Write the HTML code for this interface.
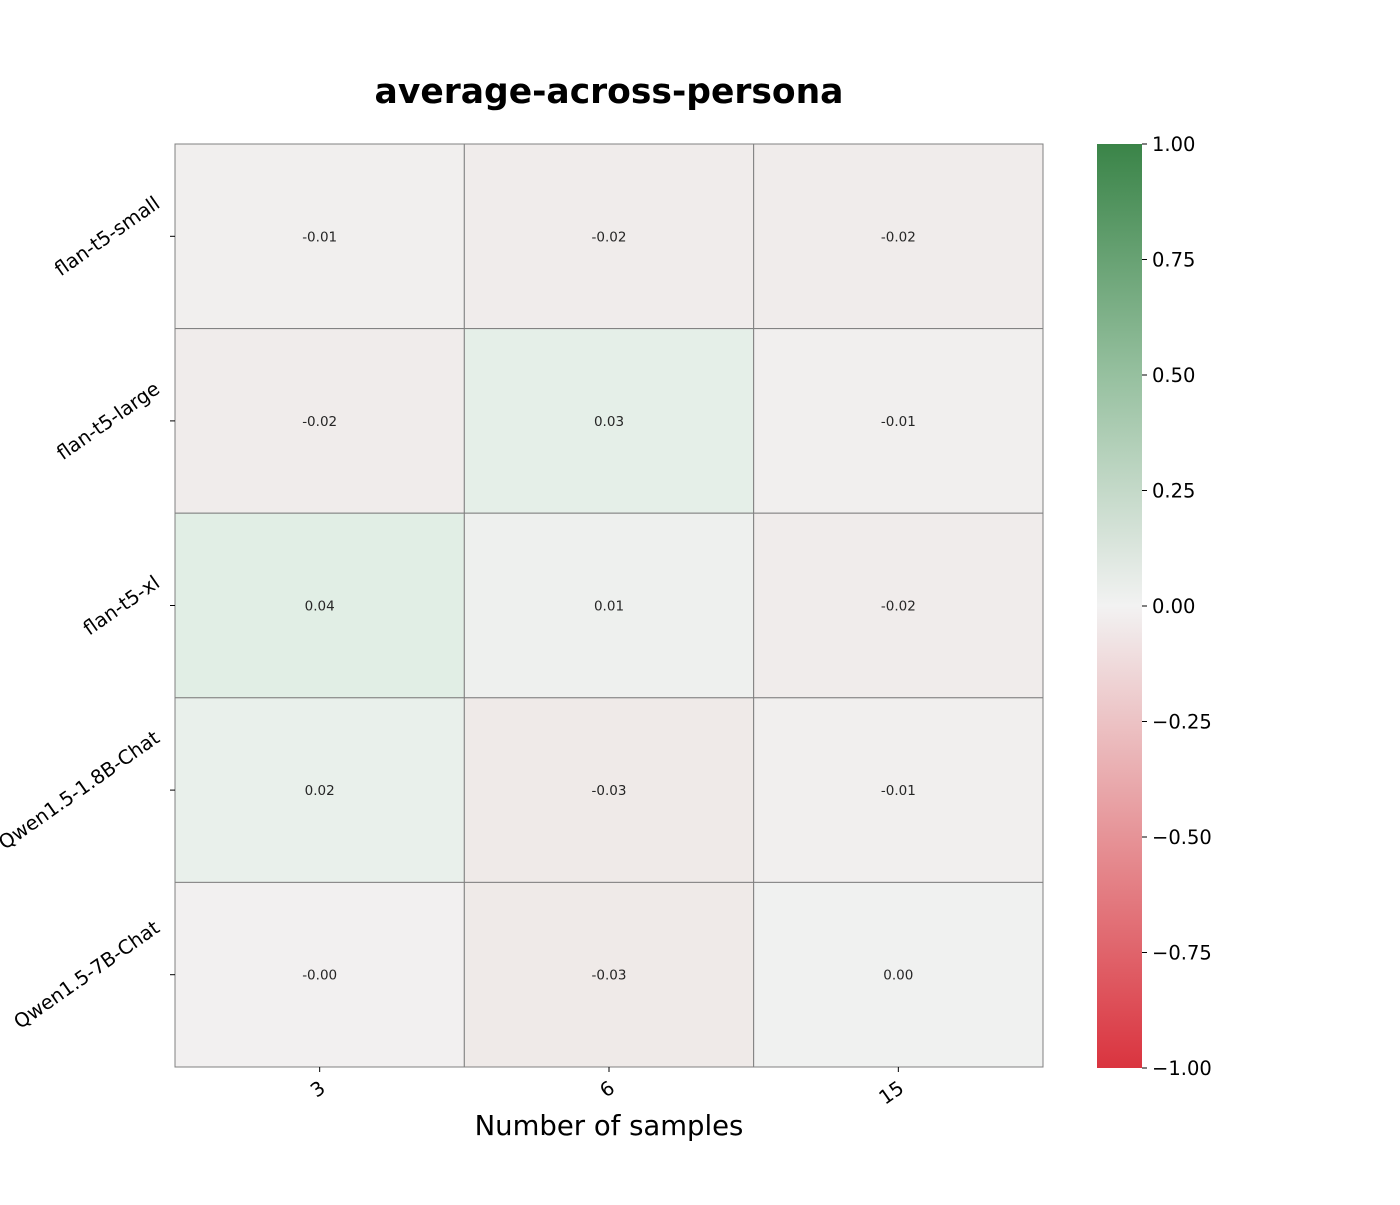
<!DOCTYPE html>
<html><head><meta charset="utf-8"><style>
body{margin:0;background:#fff;}
svg text{font-family:"DejaVu Sans","Liberation Sans",sans-serif;}
</style></head><body>
<svg id="chart" width="1400" height="1200" xmlns="http://www.w3.org/2000/svg">
<defs>
<linearGradient id="cbgrad" x1="0" y1="1" x2="0" y2="0">
<stop offset="0" stop-color="rgb(218,52,63)"/>
<stop offset="0.25" stop-color="rgb(230,147,151)"/>
<stop offset="0.5" stop-color="rgb(242,242,242)"/>
<stop offset="0.75" stop-color="rgb(150,192,159)"/>
<stop offset="1" stop-color="rgb(58,132,72)"/>
</linearGradient>
</defs>
<text x="609" y="103" text-anchor="middle" font-size="34.5" font-weight="bold">average-across-persona</text>
<g id="cells"></g>
<g id="yticks"></g>
<g id="xticks"></g>
<text x="609" y="1135" text-anchor="middle" font-size="27.5">Number of samples</text>
<rect x="1097" y="144" width="45" height="924" fill="url(#cbgrad)"/>
<g id="cbticks"></g>
</svg>
<script>
const rows = ["flan-t5-small","flan-t5-large","flan-t5-xl","Qwen1.5-1.8B-Chat","Qwen1.5-7B-Chat"];
const cols = ["3","6","15"];
const values = [
 [-0.01,-0.02,-0.02],
 [-0.02,0.03,-0.01],
 [0.04,0.01,-0.02],
 [0.02,-0.03,-0.01],
 [-0.004,-0.03,0.004]
];
const labels = [
 ["-0.01","-0.02","-0.02"],
 ["-0.02","0.03","-0.01"],
 ["0.04","0.01","-0.02"],
 ["0.02","-0.03","-0.01"],
 ["-0.00","-0.03","0.00"]
];
const cbTicks = [1,0.75,0.5,0.25,0,-0.25,-0.5,-0.75,-1];
const cbLabels = ["1.00","0.75","0.50","0.25","0.00","\u22120.25","\u22120.50","\u22120.75","\u22121.00"];

const NS="http://www.w3.org/2000/svg";
const X0=175,X1=1043,Y0=144,Y1=1067;
const cw=(X1-X0)/cols.length, rh=(Y1-Y0)/rows.length;
const xPos=i=>X0+i*cw, yPos=j=>Y0+j*rh;
const cbY=v=>Y0+(1-v)/2*(1068-Y0);
function color(v){
 const mid=[242,241,241];
 const slope=v<0?[100,250,300]:[433,67,300];
 const a=Math.abs(v);
 return "rgb("+mid.map((m,k)=>Math.max(0,Math.round(m-slope[k]*a))).join(",")+")";
}
function mk(tag,attrs,parent){const el=document.createElementNS(NS,tag);for(const k in attrs)el.setAttribute(k,attrs[k]);parent.appendChild(el);return el;}
const cells=document.getElementById('cells');
values.forEach((row,j)=>row.forEach((v,i)=>{
 const r=mk('rect',{x:xPos(i),y:yPos(j),width:cw,height:rh,fill:color(v),stroke:'#808080','stroke-width':1},cells);
 
 
 const t=mk('text',{x:xPos(i)+cw/2,y:yPos(j)+rh/2+5,'text-anchor':'middle','font-size':13.5,fill:'#262626'},cells);
 t.textContent=labels[j][i];
 
 
}));
const yt=document.getElementById('yticks');
rows.forEach((r,j)=>{
 const y=yPos(j)+rh/2;
 mk('line',{x1:170,x2:175,y1:y,y2:y,stroke:'#000'},yt);
 const g=mk('g',{},yt);
 const t=mk('text',{x:0,y:0,'text-anchor':'end','font-size':19.5,transform:'rotate(-35)'},g);
 t.textContent=r;
 
 
 const b=g.getBBox();
 g.setAttribute('transform',`translate(${164-(b.x+b.width)} ${y-(b.y+b.height/2)})`);
});
const xt=document.getElementById('xticks');
cols.forEach((c,i)=>{
 const x=xPos(i)+cw/2;
 mk('line',{x1:x,x2:x,y1:1067,y2:1072,stroke:'#000'},xt);
 const t=mk('text',{x:x+7,y:1091,'text-anchor':'end','font-size':19.5,transform:`rotate(-35 ${x+7} 1091)`},xt);
 t.textContent=c;
 
 
});
const cb=document.getElementById('cbticks');
cbTicks.forEach((v,k)=>{
 const y=cbY(v);
 mk('line',{x1:1142,x2:1147,y1:y,y2:y,stroke:'#000'},cb);
 const t=mk('text',{x:1152,y:y+7,'font-size':19.5},cb);
 t.textContent=cbLabels[k];
 
 
});
</script>
</body></html>
